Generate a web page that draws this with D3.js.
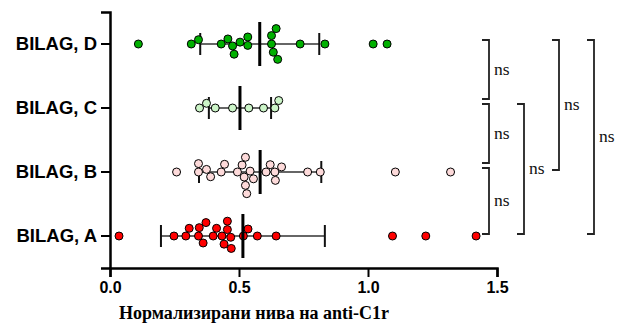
<!DOCTYPE html>
<html>
<head>
<meta charset="utf-8">
<script src="https://cdn.jsdelivr.net/npm/d3@7"></script>
<style>
  html, body { margin: 0; padding: 0; background: #fff; }
  svg { display: block; }
</style>
</head>
<body>
<svg id="chart" width="619" height="326"></svg>
<script>
// Groups, top to bottom
const categories = ["BILAG, D", "BILAG, C", "BILAG, B", "BILAG, A"];

// Normalised anti-C1r levels per group
const valuesD = [0.11, 0.315, 0.343, 0.431, 0.457, 0.475, 0.481, 0.504, 0.534, 0.534,
                 0.626, 0.626, 0.633, 0.644, 0.650, 0.737, 0.833, 1.020, 1.074];
const valuesC = [0.347, 0.374, 0.408, 0.475, 0.538, 0.595, 0.639, 0.654];
const valuesB = [0.258, 0.343, 0.343, 0.374, 0.390, 0.431, 0.444, 0.494, 0.512, 0.520,
                 0.525, 0.525, 0.530, 0.543, 0.556, 0.605, 0.621, 0.639, 0.641, 0.665,
                 0.766, 0.815, 1.106, 1.320];
const valuesA = [0.035, 0.248, 0.294, 0.307, 0.343, 0.346, 0.361, 0.372, 0.400, 0.413,
                 0.434, 0.442, 0.455, 0.455, 0.468, 0.470, 0.517, 0.535, 0.571, 0.644,
                 1.095, 1.224, 1.419];
const seriesValues = [valuesD, valuesC, valuesB, valuesA];
const fillColors = ["#00b000", "#ccf5c8", "#fddada", "#ff0000"];

const xTicks = [0, 0.5, 1.0, 1.5];
const xTitle = "Нормализирани нива на anti-C1r";

// Pairwise comparisons: [from group, to group, bracket column, label]
const compFrom = ["BILAG, D", "BILAG, C", "BILAG, B", "BILAG, C", "BILAG, D", "BILAG, D"];
const compTo   = ["BILAG, C", "BILAG, B", "BILAG, A", "BILAG, A", "BILAG, B", "BILAG, A"];
const compCol  = [0, 0, 0, 1, 2, 3];
const compText = ["ns", "ns", "ns", "ns", "ns", "ns"];

const svg = d3.select("#chart");
svg.append("rect").attr("width", 619).attr("height", 326).attr("fill", "#fff");

const x = d3.scaleLinear().domain([0, 1.5]).range([110, 497]);
const y = d3.scaleBand().domain(categories).range([12, 268]).padding(0);
const yc = c => y(c) + y.bandwidth() / 2;

// Axes
const xAxis = svg.append("g")
  .attr("transform", "translate(0,268)")
  .call(d3.axisBottom(x).tickValues(xTicks).tickFormat(d3.format(".1f"))
          .tickSizeOuter(0).tickSize(9).tickPadding(5));
const yAxis = svg.append("g")
  .attr("transform", "translate(110,0)")
  .call(d3.axisLeft(y).tickSizeOuter(0).tickSize(9).tickPadding(4));

[xAxis, yAxis].forEach(g => {
  g.select(".domain").attr("stroke", "#000").attr("stroke-width", 2.5);
  g.selectAll(".tick line").attr("stroke", "#000").attr("stroke-width", 2);
  g.selectAll(".tick text").attr("fill", "#000")
    .attr("font-family", "Liberation Sans, Arial, sans-serif")
    .attr("font-weight", "bold");
});
xAxis.selectAll(".tick text").attr("font-size", 16);
yAxis.selectAll(".tick text").attr("font-size", 18.5);

svg.append("text")
  .attr("x", 254).attr("y", 319)
  .attr("text-anchor", "middle")
  .attr("font-family", "Liberation Serif, Times New Roman, serif")
  .attr("font-weight", "bold")
  .attr("font-size", 18)
  .text(xTitle);

// Beeswarm offsets: each dot takes the free vertical slot closest to the centre line
function swarm(vals, diam) {
  const placed = [];
  const order = vals.map((v, i) => i).sort((a, b) => vals[a] - vals[b]);
  const offs = new Array(vals.length);
  order.forEach(i => {
    const px = x(vals[i]);
    const cands = [0];
    placed.forEach(p => {
      const dx = px - p.x;
      if (Math.abs(dx) < diam) {
        const h = Math.sqrt(diam * diam - dx * dx);
        cands.push(p.y - h, p.y + h);
      }
    });
    cands.sort((a, b) => Math.abs(a) - Math.abs(b) || a - b);
    const ok = cands.find(c => placed.every(p => {
      const dx = px - p.x, dy = c - p.y;
      return dx * dx + dy * dy >= diam * diam - 1e-6;
    }));
    offs[i] = ok;
    placed.push({ x: px, y: ok });
  });
  return offs;
}

const r = 4;
categories.forEach((cat, k) => {
  const vals = seriesValues[k];
  const cy = yc(cat);
  const m = d3.mean(vals), sd = d3.deviation(vals);
  const g = svg.append("g");

  // mean ± SD bar
  g.append("line")
    .attr("x1", x(m - sd)).attr("x2", x(m + sd))
    .attr("y1", cy).attr("y2", cy)
    .attr("stroke", "#333").attr("stroke-width", 1.6);
  [m - sd, m + sd].forEach(v => {
    g.append("line")
      .attr("x1", x(v)).attr("x2", x(v))
      .attr("y1", cy - 11).attr("y2", cy + 11)
      .attr("stroke", "#111").attr("stroke-width", 2);
  });

  const offs = swarm(vals, 8.4);
  g.selectAll("circle").data(vals).join("circle")
    .attr("cx", d => x(d))
    .attr("cy", (d, i) => cy + offs[i])
    .attr("r", r)
    .attr("fill", fillColors[k])
    .attr("stroke", "#000").attr("stroke-width", 1);

  g.append("line")
    .attr("x1", x(m)).attr("x2", x(m))
    .attr("y1", cy - 22).attr("y2", cy + 22)
    .attr("stroke", "#000").attr("stroke-width", 3);
});

// Significance brackets
const colX = d3.scaleLinear().domain([0, 3]).range([489, 594]);
const spans = compFrom.map((f, i) => ({ top: yc(f) - 4, bottom: yc(compTo[i]) - 2, col: compCol[i], text: compText[i] }));
spans.forEach(s => {
  const next = spans.find(o => o !== s && o.col === s.col && o.top > s.top && o.top - s.bottom < 5);
  if (next) s.bottom = next.top - 5;
});
spans.forEach(s => {
  const bx = colX(s.col);
  svg.append("path")
    .attr("d", `M${bx - 7},${s.top}H${bx}V${s.bottom}H${bx - 7}`)
    .attr("fill", "none").attr("stroke", "#222").attr("stroke-width", 1.8);
  svg.append("text")
    .attr("x", bx + 5).attr("y", (s.top + s.bottom) / 2 + 5)
    .attr("font-family", "Liberation Serif, Times New Roman, serif")
    .attr("font-size", 17.5)
    .attr("fill", "#111")
    .text(s.text);
});
</script>
</body>
</html>
